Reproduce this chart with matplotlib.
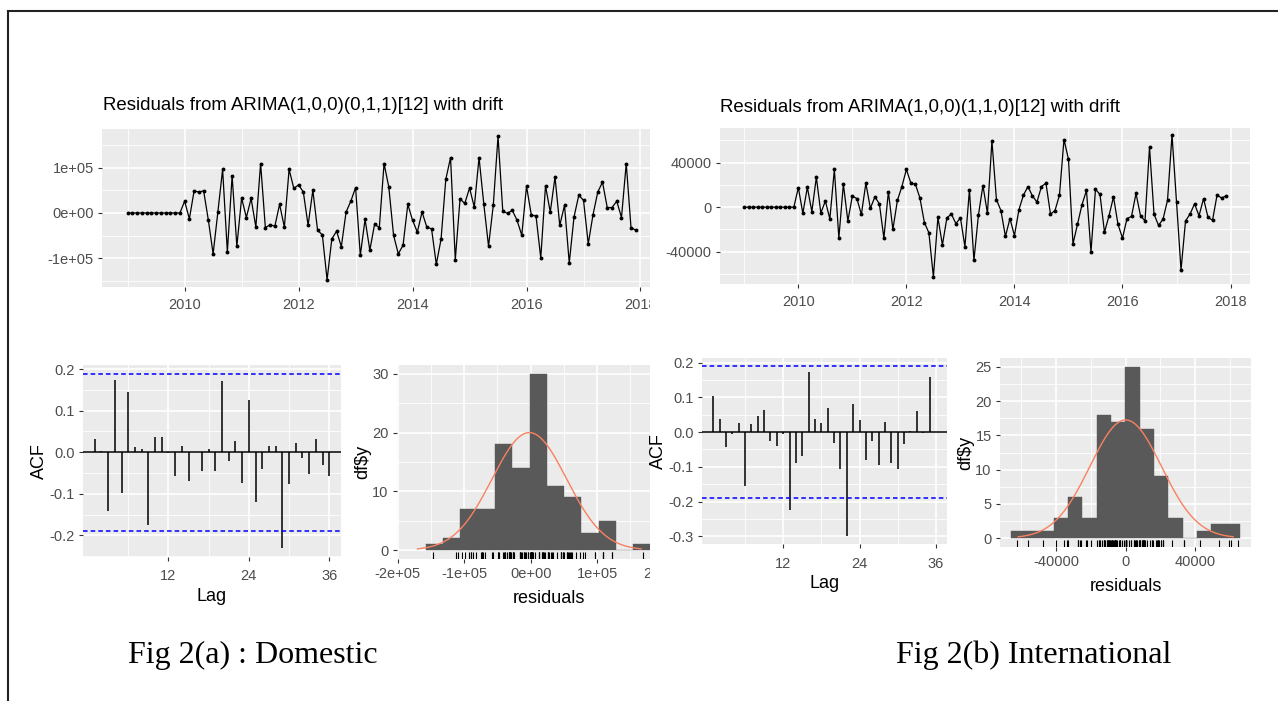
import numpy as np
import matplotlib.pyplot as plt
from matplotlib.lines import Line2D
from matplotlib.patches import Rectangle
from matplotlib.ticker import FixedLocator
from matplotlib.transforms import Bbox, TransformedBbox

plt.rcParams['font.family'] = ['Liberation Sans Narrow', 'Liberation Sans', 'DejaVu Sans']

W, H = 1278, 701

# residuals, monthly Jan 2009 - Dec 2017
dom_resid = [0, 0, 0, 0, 0, 0, 0, 0, 0, 0, 0, 0,
             26000, -13000, 49000, 46000, 49000, -16000, -90000, 2000, 96000, -86000, 82000, -73000,
             33000, -10000, 32000, -31000, 109000, -32000, -26000, -29000, 19000, -31000, 96000, 54000,
             62000, 46000, -27000, 50000, -38000, -48000, -147000, -57000, -40000, -74000, 2000, 26000,
             56000, -93000, -14000, -82000, -25000, -32000, 109000, 57000, -49000, -90000, -71000, 19000,
             -16000, -42000, 2000, -31000, -35000, -113000, -58000, 74000, 122000, -103000, 31000, 21000,
             55000, 13000, 122000, 20000, -73000, 17000, 169000, 4000, -1000, 6000, -16000, -49000,
             59000, -4000, -7000, -99000, 60000, 2000, 79000, -27000, 17000, -110000, -9000, 39000,
             28000, -68000, -4000, 46000, 68000, 12000, 12000, 26000, -10000, 109000, -32000, -38000]

int_resid = [0, 0, 0, 0, 0, 0, 0, 0, 0, 0, 0, 0,
             17500, -5500, 17800, -4000, 26800, -5200, 5500, -10500, 33800, -27700, 20600, -12300,
             10000, 7700, -6500, 21500, -1000, 9200, 3000, -27700, 13800, -20000, 6000, 18500,
             33800, 21500, 20600, 8300, -13800, -23000, -62500, -9200, -33800, -9500, -6200, -14800,
             -9500, -35400, 15400, -47700, -7100, 19400, -5500, 59400, 6800, -3100, -26200, -10200,
             -25500, -2200, 10800, 18500, 10000, 4600, 18500, 21500, -6200, -3100, 10800, 60600,
             43000, -33000, -15400, 2200, 15000, -40000, 16000, 11400, -22500, -7700, 9200, -15400,
             -27700, -10200, -8300, 12300, -7700, -12300, 53800, -6200, -16300, -10800, 6200, 64600,
             4600, -56300, -12300, -6200, 3000, -7700, 7700, -9200, -11700, 10800, 8300, 10000]

start_year = 2009

# ACF of residuals, lags 1..36
dom_acf = [0.033, 0.002, -0.142, 0.173, -0.099, 0.145, 0.012, 0.009, -0.174, 0.037, 0.037, -0.002,
           -0.056, 0.015, -0.070, 0.001, -0.045, 0.009, -0.045, 0.172, -0.020, 0.026, -0.073, 0.126,
           -0.120, -0.040, 0.015, 0.015, -0.231, -0.077, 0.022, -0.013, -0.052, 0.033, -0.031, -0.056]
int_acf = [0.105, 0.038, -0.044, -0.006, 0.026, -0.156, 0.022, 0.047, 0.064, -0.027, -0.039, -0.006,
           -0.223, -0.089, -0.068, 0.172, 0.038, 0.026, 0.069, -0.032, -0.106, -0.298, 0.080, 0.034,
           -0.081, -0.027, -0.094, 0.030, -0.089, -0.105, -0.034, 0.002, 0.060, -0.002, 0.157, 0.001]
acf_ci = 0.189

# histograms of residuals
dom_bin_start, dom_binwidth = -157600, 26000
dom_counts = [1, 2, 7, 7, 18, 14, 30, 11, 9, 3, 5, 0, 1]
dom_mean, dom_sd = -2000, 56000

int_bin_start, int_binwidth = -66200, 8250
int_counts = [1, 1, 1, 3, 6, 3, 18, 17, 25, 16, 9, 3, 0, 1, 2, 2]
int_mean, int_sd = 0, 20600

titles = ['Residuals from ARIMA(1,0,0)(0,1,1)[12] with drift',
          'Residuals from ARIMA(1,0,0)(1,1,0)[12] with drift']
captions = ['Fig 2(a) : Domestic', 'Fig 2(b) International']

fig = plt.figure(figsize=(W / 100, H / 100), dpi=100)
fig.patch.set_facecolor('white')

# the left figure is cut off at x = 650 px in the reference
crop = TransformedBbox(Bbox.from_extents(0, 0, 650 / W, 1), fig.transFigure)


def box(l, t, r, b):
    return [l / W, 1 - b / H, (r - l) / W, (b - t) / H]


def gg(ax, xmaj, xmin, ymaj, ymin):
    ax.set_facecolor('#EBEBEB')
    for s in ax.spines.values():
        s.set_visible(False)
    ax.xaxis.set_major_locator(FixedLocator(xmaj))
    ax.xaxis.set_minor_locator(FixedLocator(xmin))
    ax.yaxis.set_major_locator(FixedLocator(ymaj))
    ax.yaxis.set_minor_locator(FixedLocator(ymin))
    ax.grid(which='major', color='white', lw=1.2)
    ax.grid(which='minor', color='white', lw=0.6)
    ax.set_axisbelow(True)
    ax.tick_params(which='major', length=3, width=0.8, color='#333333',
                   labelcolor='#4D4D4D', labelsize=10.5, pad=3)
    ax.tick_params(which='minor', length=0)


def clip_labels(ax):
    for lab in ax.get_xticklabels():
        lab.set_clip_on(True)
        lab.set_clip_box(crop)


def ts_panel(rect, resid, ylim, ymaj, ymin, ylabels):
    ax = fig.add_axes(box(*rect))
    x = start_year + np.arange(len(resid)) / 12
    ax.plot(x, resid, color='black', lw=0.9)
    ax.plot(x, resid, 'o', color='black', ms=1.8)
    ax.set_xlim(2008.55, 2018.36)
    ax.set_ylim(*ylim)
    gg(ax, [2010, 2012, 2014, 2016, 2018], [2009, 2011, 2013, 2015, 2017], ymaj, ymin)
    ax.set_xticklabels(['2010', '2012', '2014', '2016', '2018'])
    ax.set_yticklabels(ylabels)
    ax.tick_params(axis='x', pad=5)
    return ax


def acf_panel(rect, acf, ylim, ymaj, ymin):
    ax = fig.add_axes(box(*rect))
    lags = np.arange(1, len(acf) + 1)
    ax.vlines(lags, 0, acf, color='black', lw=1.1)
    ax.axhline(0, color='black', lw=1.1)
    ax.axhline(acf_ci, color='blue', lw=1.1, ls=(0, (3, 2)))
    ax.axhline(-acf_ci, color='blue', lw=1.1, ls=(0, (3, 2)))
    ax.set_xlim(-0.75, 37.75)
    ax.set_ylim(*ylim)
    gg(ax, [12, 24, 36], [6, 18, 30], ymaj, ymin)
    ax.set_xticklabels(['12', '24', '36'])
    ax.set_yticklabels(['%.1f' % v for v in ymaj])
    ax.tick_params(axis='x', pad=6)
    ax.set_xlabel('Lag', fontsize=13, labelpad=3)
    ax.set_ylabel('ACF', fontsize=13, labelpad=1)
    return ax


def hist_panel(rect, resid, start, bw, counts, mu, sd, xlim, ylim, xmaj, xmin, xlabels, ymaj, ymin):
    ax = fig.add_axes(box(*rect))
    edges = start + bw * np.arange(len(counts))
    ax.bar(edges, counts, width=bw, align='edge', color='#595959', edgecolor='#595959', lw=0.3)
    xg = np.linspace(mu - 3 * sd, mu + 3 * sd, 300)
    yg = len(resid) * bw * np.exp(-0.5 * ((xg - mu) / sd) ** 2) / (sd * np.sqrt(2 * np.pi))
    ax.plot(xg, yg, color='#F98161', lw=1.0)
    ax.vlines(resid, 0, 0.035, transform=ax.get_xaxis_transform(), color='black', lw=0.8)
    ax.set_xlim(*xlim)
    ax.set_ylim(*ylim)
    gg(ax, xmaj, xmin, ymaj, ymin)
    ax.set_xticklabels(xlabels)
    ax.set_yticklabels([str(v) for v in ymaj])
    ax.set_xlabel('residuals', fontsize=13, labelpad=6)
    ax.set_ylabel(r'df\$y', fontsize=13, labelpad=1)
    return ax


# Domestic
ax_ts1 = ts_panel((102, 129, 661, 287), dom_resid, (-163000, 185000),
                  [-100000, 0, 100000], [-150000, -50000, 50000, 150000], ['-1e+05', '0e+00', '1e+05'])
acf_panel((83, 365, 341, 557), dom_acf, (-0.252, 0.21),
          [-0.2, -0.1, 0.0, 0.1, 0.2], [-0.25, -0.15, -0.05, 0.05, 0.15])
ax_h1 = hist_panel((397, 365, 700, 559), dom_resid, dom_bin_start, dom_binwidth, dom_counts, dom_mean, dom_sd,
                   (-201000, 254600), (-1.5, 31.5),
                   [-200000, -100000, 0, 100000, 200000], [-150000, -50000, 50000, 150000],
                   ['-2e+05', '-1e+05', '0e+00', '1e+05', '2e+05'], [0, 10, 20, 30], [5, 15, 25])
clip_labels(ax_ts1)
clip_labels(ax_h1)

# International (drawn above the crop mask)
right_axes = [
    ts_panel((720, 128, 1250, 284), int_resid, (-68850, 70950),
             [-40000, 0, 40000], [-60000, -20000, 20000, 60000], ['-40000', '0', '40000']),
    acf_panel((702, 358, 947, 544), int_acf, (-0.322, 0.213),
              [-0.3, -0.2, -0.1, 0.0, 0.1, 0.2], [-0.25, -0.15, -0.05, 0.05, 0.15]),
    hist_panel((1000, 358, 1251, 547), int_resid, int_bin_start, int_binwidth, int_counts, int_mean, int_sd,
               (-72300, 72100), (-1.3, 26.3),
               [-40000, 0, 40000], [-60000, -20000, 20000, 60000],
               ['-40000', '0', '40000'], [0, 5, 10, 15, 20, 25], [2.5, 7.5, 12.5, 17.5, 22.5]),
]
for ax in right_axes:
    ax.set_zorder(20)

# crop of the left figure's panels
fig.patches.append(Rectangle((650 / W, 1 - 625 / H), 70 / W, 540 / H, transform=fig.transFigure,
                             facecolor='white', edgecolor='none', zorder=10))

fig.text(103 / W, 1 - 105 / H, titles[0], fontsize=13.4, va='center', ha='left')
fig.text(720 / W, 1 - 108 / H, titles[1], fontsize=13.4, va='center', ha='left')

fig.text(128 / W, 1 - 655 / H, captions[0], family='Liberation Serif', fontsize=23, va='center', ha='left')
fig.text(896 / W, 1 - 655 / H, captions[1], family='Liberation Serif', fontsize=23, va='center', ha='left')

# page border
fig.add_artist(Line2D([8 / W, 1], [1 - 11 / H, 1 - 11 / H], transform=fig.transFigure, color='#222222', lw=1.5))
fig.add_artist(Line2D([8 / W, 8 / W], [1 - 11 / H, 0], transform=fig.transFigure, color='#222222', lw=1.5))

fig.savefig('out.png', dpi=100, facecolor='white')
